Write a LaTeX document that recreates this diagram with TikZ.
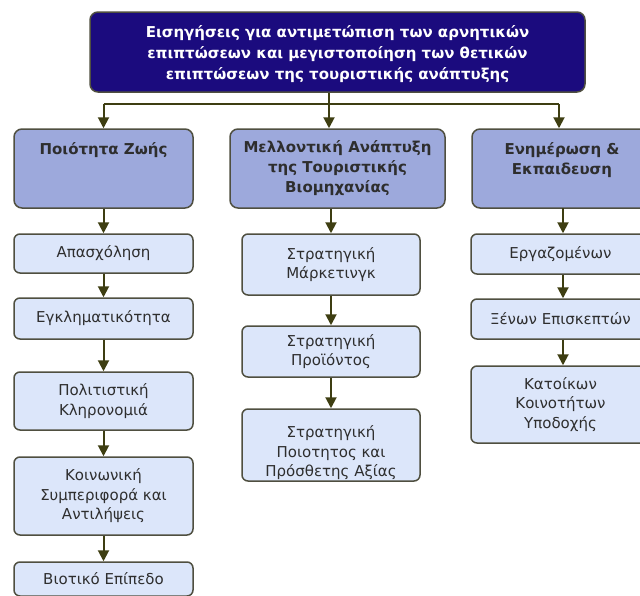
\documentclass[tikz,border=0pt]{standalone}
\usepackage{fontspec}
\setmainfont{DejaVu Sans}
\usetikzlibrary{arrows.meta}
\definecolor{topfill}{HTML}{1B0B7E}
\definecolor{headfill}{HTML}{9DA9DC}
\definecolor{kidfill}{HTML}{DCE6FA}
\definecolor{edgeC}{HTML}{4F4F40}
\definecolor{lineC}{HTML}{3E3E12}
\definecolor{txtC}{HTML}{2E2E2E}
\tikzset{
  topbox/.style={draw=edgeC, line width=1.5pt, fill=topfill, rounded corners=8pt, inner sep=0pt},
  toptext/.style={text=white, font=\fontsize{15}{21}\selectfont\bfseries, align=center, inner sep=0pt},
  headbox/.style={draw=edgeC, line width=1.5pt, fill=headfill, rounded corners=8pt, text=txtC,
    font=\fontsize{15}{20}\selectfont\bfseries, align=center, inner sep=0pt, minimum height=79pt},
  kidbox/.style={draw=edgeC, line width=1.5pt, fill=kidfill, rounded corners=6pt, text=txtC,
    font=\fontsize{15}{19.5}\selectfont, align=center, inner sep=0pt},
  conn/.style={draw=lineC, line width=2pt},
  arr/.style={conn, -{Triangle[length=11pt,width=11pt]}}
}
\begin{document}
\begin{tikzpicture}[x=1pt,y=-1pt]
\useasboundingbox (0,0) rectangle (640,595);
\clip (0,0) rectangle (640,595);
\fill[white] (0,0) rectangle (640,595);
% top
\node[topbox, minimum width=495pt, minimum height=80pt] (top) at (337.5,52) {};
\node[toptext] (toptxt) at (337.5,54.5)
  {Εισηγήσεις για αντιμετώπιση των αρνητικών\\επιπτώσεων και μεγιστοποίηση των θετικών\\επιπτώσεων της τουριστικής ανάπτυξης};
% headers
\node[headbox, minimum width=179pt] (h1) at (103.5,168.5) {Ποιότητα Ζωής\\~\\~};
\node[headbox, minimum width=215pt] (h2) at (337.5,168.5) {Μελλοντική Ανάπτυξη\\της Τουριστικής\\Βιομηχανίας};
\node[headbox, minimum width=180pt] (h3) at (562,168.5) {Ενημέρωση \&\\Εκπαιδευση\\~};
% left column
\node[kidbox, minimum width=179pt, minimum height=39pt] (l1) at (103.5,253.5) {Απασχόληση};
\node[kidbox, minimum width=179pt, minimum height=41pt] (l2) at (103.5,318.5) {Εγκληματικότητα};
\node[kidbox, minimum width=179pt, minimum height=58pt] (l3) at (103.5,401) {Πολιτιστική\\Κληρονομιά};
\node[kidbox, minimum width=179pt, minimum height=78pt] (l4) at (103.5,496) {Κοινωνική\\Συμπεριφορά και\\Αντιλήψεις};
\node[kidbox, minimum width=179pt, minimum height=34pt] (l5) at (103.5,579) {Βιοτικό Επίπεδο};
% middle column
\node[kidbox, minimum width=178pt, minimum height=61pt] (m1) at (331,264.5) {Στρατηγική\\Μάρκετινγκ};
\node[kidbox, minimum width=178pt, minimum height=51pt] (m2) at (331,351.5) {Στρατηγική\\Προϊόντος};
\node[kidbox, minimum width=178pt, minimum height=72pt] (m3) at (331,445) {};
\begin{scope}
  \clip[rounded corners=6pt] (242.75,409.75) rectangle (419.25,480.25);
  \node[font=\fontsize{15}{19.5}\selectfont, text=txtC, align=center, inner sep=0pt] (m3t) at (331,453)
    {Στρατηγική\\Ποιοτητος και\\Πρόσθετης Αξίας};
\end{scope}
% right column
\node[kidbox, minimum width=179pt, minimum height=40pt] (r1) at (560.5,254) {Εργαζομένων};
\node[kidbox, minimum width=179pt, minimum height=40pt] (r2) at (560.5,319) {Ξένων Επισκεπτών};
\node[kidbox, minimum width=179pt, minimum height=77pt] (r3) at (560.5,404.5) {Κατοίκων\\Κοινοτήτων\\Υποδοχής};
% connectors
\coordinate (bus) at (329,104);
\coordinate (busL) at (103.5,104);
\coordinate (busR) at (559,104);
\draw[conn] (top.south -| bus) -- (bus);
\draw[conn] (busL) -- (busR);
\draw[arr] (busL) -- (h1.north);
\draw[arr] (bus) -- (bus |- h2.north);
\draw[arr] (busR) -- (busR |- h3.north);
\draw[arr] (h1.south) -- (l1.north);
\draw[arr] (l1) -- (l2);
\draw[arr] (l2) -- (l3);
\draw[arr] (l3) -- (l4);
\draw[arr] (l4) -- (l5);
\draw[arr] (m1.north |- h2.south) -- (m1.north);
\draw[arr] (m1) -- (m2);
\draw[arr] (m2) -- (m3);
\draw[arr] (563,208) coordinate (r0) -- (r0 |- r1.north);
\draw[arr] (r1.south -| r0) -- (r0 |- r2.north);
\draw[arr] (r2.south -| r0) -- (r0 |- r3.north);
\end{tikzpicture}
\end{document}
